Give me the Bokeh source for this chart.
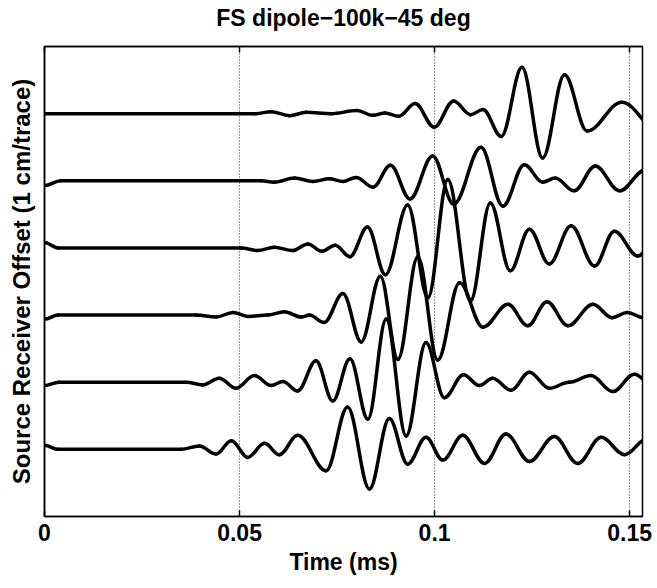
from bokeh.plotting import figure
from bokeh.models import Range1d, LinearAxis, FixedTicker, CustomJSTickFormatter, ColumnDataSource
from bokeh.embed import file_html
from bokeh.resources import INLINE

title_text = "FS dipole\u2212100k\u221245 deg"
x_label = "Time (ms)"
y_label = "Source Receiver Offset (1 cm/trace)"
x_ticks = [0, 0.05, 0.1, 0.15]
x_tick_labels = ["0", "0.05", "0.1", "0.15"]
trace_offsets = [1, 2, 3, 4, 5, 6]

# extrema (time in ms, amplitude in trace spacings), bottom to top
t1 = [0, 0.0035, 0.0350, 0.0397, 0.0440, 0.0479, 0.0521, 0.0564, 0.0602, 0.0649, 0.0722, 0.0777, 0.0833,
      0.0884, 0.0931, 0.0978, 0.1021, 0.1072, 0.1128, 0.1183, 0.1243, 0.1307, 0.1367, 0.1427, 0.1487, 0.1545]
a1 = [0.06, 0, 0, 0.05, -0.07, 0.13, -0.12, 0.09, -0.08, 0.21, -0.32, 0.63, -0.59,
      0.46, -0.22, 0.18, -0.16, 0.21, -0.21, 0.23, -0.18, 0.19, -0.21, 0.18, -0.08, 0.16]

t2 = [0, 0.0037, 0.0363, 0.0406, 0.0448, 0.0491, 0.0538, 0.0581, 0.0611, 0.0649, 0.0696, 0.0739, 0.0783,
      0.0829, 0.0876, 0.0927, 0.0978, 0.1025, 0.1074, 0.1115, 0.1149, 0.1196, 0.1243, 0.1294, 0.1345,
      0.1401, 0.1457, 0.1512, 0.1560]
a2 = [-0.05, 0, 0, -0.04, 0.06, -0.09, 0.10, -0.05, 0.01, -0.13, 0.32, -0.28, 0.35,
      -0.55, 0.94, -0.80, 0.59, -0.23, 0.11, -0.05, 0.06, -0.12, 0.15, -0.09, 0.0,
      0.10, -0.14, 0.12, -0.05]

t3 = [0, 0.0035, 0.0388, 0.0440, 0.0483, 0.0522, 0.0572, 0.0615, 0.0658, 0.0679, 0.0717, 0.0765, 0.0812,
      0.0861, 0.0906, 0.0957, 0.1008, 0.1064, 0.1124, 0.1188, 0.1239, 0.1288, 0.1342, 0.1406, 0.1455,
      0.1494, 0.1535]
a3 = [-0.06, 0, 0, -0.03, 0.04, -0.02, 0.0, 0.05, -0.03, 0.0, -0.11, 0.32, -0.40,
      0.58, -0.66, 0.87, -0.67, 0.48, -0.18, 0.16, -0.16, 0.20, -0.16, 0.16, -0.04,
      0.04, -0.04]

t4 = [0, 0.0035, 0.0504, 0.0547, 0.0589, 0.0636, 0.0675, 0.0711, 0.0745, 0.0783, 0.0828, 0.0874, 0.0931,
      0.0983, 0.1034, 0.1092, 0.1143, 0.1194, 0.1243, 0.1294, 0.1350, 0.1410, 0.1461, 0.1521, 0.1575]
a4 = [0.08, 0, 0, -0.04, 0.01, -0.04, 0.06, -0.05, 0.04, -0.13, 0.31, -0.40, 0.64,
      -0.74, 1.02, -0.79, 0.67, -0.34, 0.28, -0.24, 0.33, -0.27, 0.25, -0.12, 0.20]

t5 = [0, 0.0042, 0.0555, 0.0589, 0.0641, 0.0688, 0.0730, 0.0765, 0.0799, 0.0842, 0.0887, 0.0937, 0.0995,
      0.1049, 0.1119, 0.1175, 0.1230, 0.1277, 0.1309, 0.1358, 0.1412, 0.1474, 0.1540]
a5 = [-0.07, 0, 0, -0.02, 0.04, -0.01, 0.03, -0.01, 0.05, -0.095, 0.23, -0.27, 0.37,
      -0.35, 0.50, -0.38, 0.24, -0.02, 0.04, -0.15, 0.22, -0.15, 0.16]

t6 = [0, 0.0542, 0.0581, 0.0628, 0.0671, 0.0735, 0.0801, 0.0842, 0.0873, 0.0908, 0.0950, 0.0999, 0.1049,
      0.1092, 0.1124, 0.1171, 0.1224, 0.1277, 0.1333, 0.1391, 0.1480, 0.1575]
a6 = [0, 0, 0.03, -0.03, 0.02, 0.0, 0.045, -0.025, 0.01, -0.04, 0.15, -0.20, 0.19,
      -0.015, 0.06, -0.34, 0.69, -0.66, 0.58, -0.26, 0.17, -0.26]

times = [t1, t2, t3, t4, t5, t6]
amps = [a1, a2, a3, a4, a5, a6]

FONT = "Liberation Sans"
FS = "23px"

p = figure(width=657, height=588, output_backend="svg", toolbar_location=None,
           x_range=Range1d(0, 0.1533), y_range=Range1d(0, 7),
           min_border_left=44, min_border_right=15, min_border_top=45, min_border_bottom=72,
           background_fill_color="white", border_fill_color="white")

p.title.text = title_text
p.title.align = "center"
p.title.text_font = FONT
p.title.text_font_size = FS
p.title.text_font_style = "bold"
p.title.text_color = "black"
p.title.standoff = 4

p.outline_line_color = "black"
p.outline_line_width = 1.5
p.outline_line_alpha = 1.0

xa = p.xaxis[0]
xa.ticker = FixedTicker(ticks=x_ticks)
xa.major_label_overrides = {v: s for v, s in zip(x_ticks, x_tick_labels)}
xa.major_tick_in = 6
xa.major_tick_out = 0
xa.minor_tick_in = 0
xa.minor_tick_out = 0
xa.axis_line_width = 1.5
xa.major_tick_line_width = 1.5
xa.major_label_text_font = FONT
xa.major_label_text_font_size = FS
xa.major_label_text_font_style = "bold"
xa.major_label_text_color = "black"
xa.major_label_standoff = 7
xa.axis_label = x_label
xa.axis_label_text_font = FONT
xa.axis_label_text_font_size = FS
xa.axis_label_text_font_style = "bold"
xa.axis_label_text_color = "black"
xa.axis_label_standoff = 5

ya = p.yaxis[0]
ya.ticker = FixedTicker(ticks=[])
ya.major_tick_in = 0
ya.major_tick_out = 0
ya.minor_tick_in = 0
ya.minor_tick_out = 0
ya.axis_line_width = 1.5
ya.major_label_standoff = 0
ya.axis_label = y_label
ya.axis_label_text_font = FONT
ya.axis_label_text_font_size = "24px"
ya.axis_label_text_font_style = "bold"
ya.axis_label_text_color = "black"
ya.axis_label_standoff = 10

# mirrored inward ticks along the top edge of the box
top = LinearAxis(ticker=FixedTicker(ticks=x_ticks), major_tick_in=6, major_tick_out=0,
                 minor_tick_in=0, minor_tick_out=0, axis_line_width=1.5, major_tick_line_width=1.5,
                 major_label_text_font_size="1px", major_label_standoff=0,
                 formatter=CustomJSTickFormatter(code="return ''"))
p.add_layout(top, "above")
# invisible spacer between the box and the title
gap = LinearAxis(ticker=FixedTicker(ticks=x_ticks), major_tick_in=0, major_tick_out=14,
                 minor_tick_in=0, minor_tick_out=0, axis_line_color=None, major_tick_line_color=None,
                 major_label_text_font_size="1px", major_label_standoff=0,
                 formatter=CustomJSTickFormatter(code="return ''"))
p.add_layout(gap, "above")

p.xgrid.ticker = FixedTicker(ticks=x_ticks)
p.xgrid.grid_line_color = "black"
p.xgrid.grid_line_width = 1
p.xgrid.grid_line_dash = "1 2"
p.xgrid.grid_line_alpha = 0.8
p.ygrid.grid_line_color = None

# smooth waveform: cubic Bezier between successive extrema (horizontal tangents at extrema)
K = 0.3634
x0s, y0s, x1s, y1s, cx0s, cy0s, cx1s, cy1s = [], [], [], [], [], [], [], []
for off, t, a in zip(trace_offsets, times, amps):
    for i in range(len(t) - 1):
        xa0, xa1 = t[i], t[i + 1]
        ya0, ya1 = off + a[i], off + a[i + 1]
        dx = xa1 - xa0
        x0s.append(xa0); y0s.append(ya0); x1s.append(xa1); y1s.append(ya1)
        cx0s.append(xa0 + K * dx); cy0s.append(ya0)
        cx1s.append(xa1 - K * dx); cy1s.append(ya1)

src = ColumnDataSource(dict(x0=x0s, y0=y0s, x1=x1s, y1=y1s, cx0=cx0s, cy0=cy0s, cx1=cx1s, cy1=cy1s))
p.bezier(x0="x0", y0="y0", x1="x1", y1="y1", cx0="cx0", cy0="cy0", cx1="cx1", cy1="cy1",
         source=src, line_color="black", line_width=3.5, line_cap="round", line_join="round")

open("out.html", "w").write(file_html(p, INLINE))
